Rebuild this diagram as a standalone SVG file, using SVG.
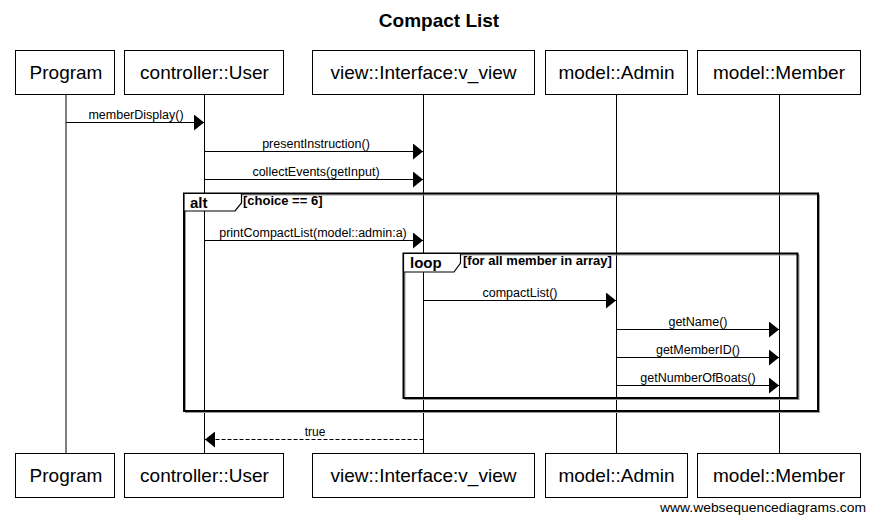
<svg xmlns="http://www.w3.org/2000/svg" width="875" height="522" viewBox="0 0 875 522">
<defs>
<style>
.bg{fill:#fff}
.box{fill:#fff;stroke:#000;stroke-width:1}
.pn{font-family:"Liberation Sans",Arial,sans-serif;font-size:19px;fill:#000;text-anchor:middle}
.life{stroke:#000;stroke-width:1;fill:none}
.msg{stroke:#000;stroke-width:1;fill:none}
.ret{stroke:#000;stroke-width:1;fill:none;stroke-dasharray:4,2}
.ml{font-family:"Liberation Sans",Arial,sans-serif;font-size:12.5px;fill:#000;text-anchor:middle}
.fr{fill:none;stroke:#000;stroke-width:2}
.sh{fill:none;stroke:#999;stroke-width:1}
.tab{fill:#fff;stroke:#000;stroke-width:1.2}
.fk{font-family:"Liberation Sans",Arial,sans-serif;font-size:15px;font-weight:bold;fill:#000}
.fc{font-family:"Liberation Sans",Arial,sans-serif;font-size:13px;font-weight:bold;fill:#000}
.title{font-family:"Liberation Sans",Arial,sans-serif;font-size:19px;font-weight:bold;fill:#000;text-anchor:middle}
.wm{font-family:"Liberation Sans",Arial,sans-serif;font-size:13px;fill:#000}
</style>
<marker id="ah" viewBox="0 0 10 16" refX="10" refY="8" markerWidth="10" markerHeight="16" markerUnits="userSpaceOnUse" orient="auto">
<path d="M0,0 L10,8 L0,16 Z" fill="#000"/>
</marker>
</defs>
<rect class="bg" x="0" y="0" width="875" height="522"/>
<text class="title" x="439" y="27">Compact List</text>

<g id="lifelines">
<line class="life" x1="66" y1="94" x2="66" y2="453"/>
<line class="life" x1="204.5" y1="94" x2="204.5" y2="453"/>
<line class="life" x1="423.5" y1="94" x2="423.5" y2="453"/>
<line class="life" x1="616.5" y1="94" x2="616.5" y2="453"/>
<line class="life" x1="779.5" y1="94" x2="779.5" y2="453"/>
</g>

<g id="frames">
<rect class="sh" x="185.5" y="195" width="634" height="217.5"/>
<rect class="fr" x="184" y="193.5" width="634" height="217.5"/>
<path class="tab" d="M184,193.5 H241.5 V203 L235,211 H184 Z"/>
<text class="fk" x="190" y="208">alt</text>
<text class="fc" x="243" y="205">[choice == 6]</text>
<rect class="sh" x="405" y="255" width="394" height="144.5"/>
<rect class="fr" x="403.5" y="253.5" width="394" height="144.5"/>
<path class="tab" d="M403.5,253.5 H460.5 V263 L454,272 H403.5 Z"/>
<text class="fk" x="410" y="268">loop</text>
<text class="fc" x="463" y="265">[for all member in array]</text>
</g>

<g id="connectors">
<line class="msg" x1="66" y1="122.5" x2="204" y2="122.5" marker-end="url(#ah)"/>
<text class="ml" x="136" y="119">memberDisplay()</text>
<line class="msg" x1="204.5" y1="151.5" x2="423" y2="151.5" marker-end="url(#ah)"/>
<text class="ml" x="316" y="148">presentInstruction()</text>
<line class="msg" x1="204.5" y1="179.5" x2="423" y2="179.5" marker-end="url(#ah)"/>
<text class="ml" x="316" y="176">collectEvents(getInput)</text>
<line class="msg" x1="204.5" y1="240.5" x2="423" y2="240.5" marker-end="url(#ah)"/>
<text class="ml" x="313" y="237">printCompactList(model::admin:a)</text>
<line class="msg" x1="423.5" y1="300.5" x2="616" y2="300.5" marker-end="url(#ah)"/>
<text class="ml" x="520" y="297">compactList()</text>
<line class="msg" x1="616.5" y1="329.5" x2="779" y2="329.5" marker-end="url(#ah)"/>
<text class="ml" x="698" y="326">getName()</text>
<line class="msg" x1="616.5" y1="357.5" x2="779" y2="357.5" marker-end="url(#ah)"/>
<text class="ml" x="698" y="354">getMemberID()</text>
<line class="msg" x1="616.5" y1="385.5" x2="779" y2="385.5" marker-end="url(#ah)"/>
<text class="ml" x="698" y="382">getNumberOfBoats()</text>
<line class="ret" x1="423.5" y1="439.5" x2="205" y2="439.5" marker-end="url(#ah)"/>
<text class="ml" x="315" y="436" style="font-size:12px">true</text>
</g>

<g id="p-program">
<rect class="box" x="15.5" y="50.5" width="99" height="44"/>
<text class="pn" x="66" y="79">Program</text>
<rect class="box" x="15.5" y="453.5" width="99" height="44"/>
<text class="pn" x="66" y="482">Program</text>
</g>
<g id="p-user">
<rect class="box" x="124.5" y="50.5" width="159" height="44"/>
<text class="pn" x="204.5" y="79">controller::User</text>
<rect class="box" x="124.5" y="453.5" width="159" height="44"/>
<text class="pn" x="204.5" y="482">controller::User</text>
</g>
<g id="p-view">
<rect class="box" x="312.5" y="50.5" width="222" height="44"/>
<text class="pn" x="423.5" y="79">view::Interface:v_view</text>
<rect class="box" x="312.5" y="453.5" width="222" height="44"/>
<text class="pn" x="423.5" y="482">view::Interface:v_view</text>
</g>
<g id="p-admin">
<rect class="box" x="545.5" y="50.5" width="142" height="44"/>
<text class="pn" x="616.5" y="79">model::Admin</text>
<rect class="box" x="545.5" y="453.5" width="142" height="44"/>
<text class="pn" x="616.5" y="482">model::Admin</text>
</g>
<g id="p-member">
<rect class="box" x="697.5" y="50.5" width="163" height="44"/>
<text class="pn" x="779" y="79">model::Member</text>
<rect class="box" x="697.5" y="453.5" width="163" height="44"/>
<text class="pn" x="779" y="482">model::Member</text>
</g>

<text class="wm" x="660" y="512" textLength="206" lengthAdjust="spacingAndGlyphs">www.websequencediagrams.com</text>
</svg>
